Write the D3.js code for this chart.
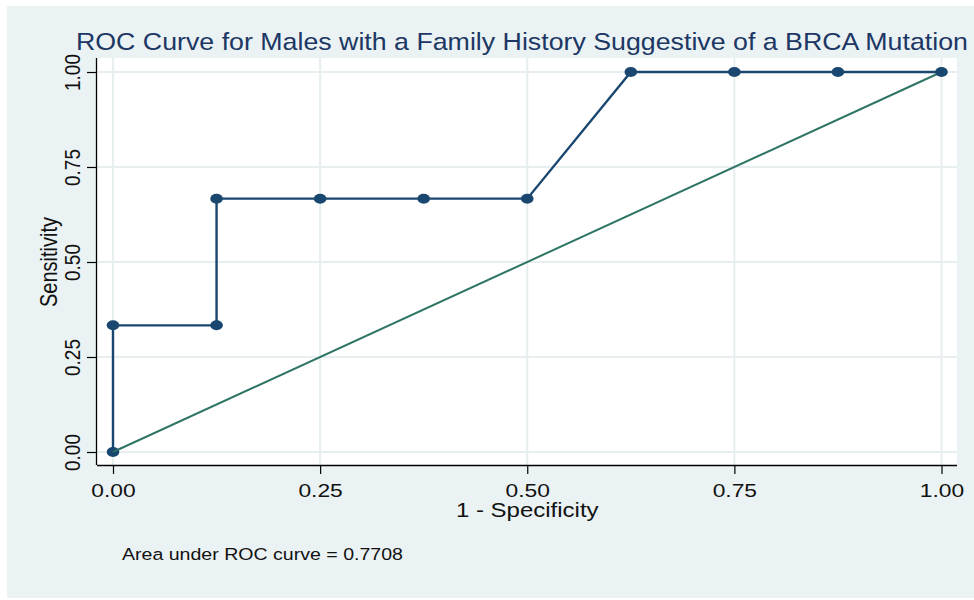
<!DOCTYPE html>
<html>
<head>
<meta charset="utf-8">
<script src="https://cdn.jsdelivr.net/npm/d3@7"></script>
<style>
  html, body { margin: 0; padding: 0; background: #ffffff; }
  svg { display: block; }
  text { font-family: "Liberation Sans", Arial, Helvetica, sans-serif; }
</style>
</head>
<body>
<svg id="chart" width="974" height="600"></svg>
<script>
// ROC points: 1 - specificity and sensitivity at each cutoff
const fpr = [0, 0, 0.125, 0.125, 0.25, 0.375, 0.5, 0.625, 0.75, 0.875, 1];
const tpr = [0, 1/3, 1/3, 2/3, 2/3, 2/3, 2/3, 1, 1, 1, 1];
const tickValues = [0, 0.25, 0.5, 0.75, 1];
const tickLabels = ["0.00", "0.25", "0.50", "0.75", "1.00"];
const titleText = "ROC Curve for Males with a Family History Suggestive of a BRCA Mutation";
const xTitle = "1 - Specificity";
const yTitle = "Sensitivity";
const aucText = "Area under ROC curve = 0.7708";

const W = 974, H = 600;
const bg = "#eaf2f3", grid = "#e6eef0", navy = "#1a476f", teal = "#2f7565";
const sx = 1.2; // horizontal glyph stretch

const svg = d3.select("#chart");

// outer graph region
svg.append("rect").attr("x", 7).attr("y", 6).attr("width", W - 7).attr("height", 592).attr("fill", bg);

// plot region
const plot = { left: 97, right: 957, top: 58, bottom: 465 };
svg.append("rect")
  .attr("x", plot.left).attr("y", plot.top)
  .attr("width", plot.right - plot.left).attr("height", plot.bottom - plot.top)
  .attr("fill", "#ffffff");

const x = d3.scaleLinear().domain([0, 1]).range([113, 941.5]);
const y = d3.scaleLinear().domain([0, 1]).range([452, 72]);

// gridlines
svg.append("g").selectAll("line").data(tickValues).join("line")
  .attr("x1", d => x(d)).attr("x2", d => x(d))
  .attr("y1", plot.top).attr("y2", plot.bottom)
  .attr("stroke", grid).attr("stroke-width", 2);
svg.append("g").selectAll("line").data(tickValues).join("line")
  .attr("y1", d => y(d)).attr("y2", d => y(d))
  .attr("x1", plot.left).attr("x2", plot.right)
  .attr("stroke", grid).attr("stroke-width", 2);

// axes
const fmt = d => tickLabels[tickValues.indexOf(d)];
const xAxis = svg.append("g")
  .attr("transform", `translate(0,${plot.bottom})`)
  .call(d3.axisBottom(x).tickValues(tickValues).tickFormat(fmt).tickSize(9).tickPadding(6));
xAxis.select(".domain").attr("d", `M${plot.left},0.5H${plot.right}`).attr("stroke", "#000").attr("stroke-width", 1.3);
xAxis.selectAll(".tick line").attr("stroke", "#000").attr("stroke-width", 1.2);
xAxis.selectAll(".tick text")
  .attr("font-size", 19).attr("fill", "#111")
  .attr("y", null).attr("dy", null)
  .attr("transform", `translate(0,32) scale(${sx},1)`);

const yAxis = svg.append("g")
  .attr("transform", `translate(${plot.left},0)`)
  .call(d3.axisLeft(y).tickValues(tickValues).tickFormat(fmt).tickSize(10).tickPadding(6));
yAxis.select(".domain").attr("d", `M-0.5,${plot.top}V${plot.bottom}`).attr("stroke", "#000").attr("stroke-width", 1.3);
yAxis.selectAll(".tick line").attr("stroke", "#000").attr("stroke-width", 1.2);
yAxis.selectAll(".tick text")
  .attr("font-size", 19).attr("fill", "#111")
  .attr("x", null).attr("dy", null)
  .attr("text-anchor", "middle")
  .attr("transform", `translate(-17,0) scale(${sx},1) rotate(-90)`);

// reference diagonal
svg.append("line")
  .attr("x1", x(0)).attr("y1", y(0)).attr("x2", x(1)).attr("y2", y(1))
  .attr("stroke", teal).attr("stroke-width", 2);

// ROC curve
const pts = fpr.map((v, i) => [v, tpr[i]]);
svg.append("path")
  .datum(pts)
  .attr("d", d3.line().x(d => x(d[0])).y(d => y(d[1])))
  .attr("fill", "none").attr("stroke", navy).attr("stroke-width", 2.4);

svg.append("g").selectAll("ellipse").data(pts).join("ellipse")
  .attr("cx", d => x(d[0])).attr("cy", d => y(d[1]))
  .attr("rx", 6.3).attr("ry", 5)
  .attr("fill", navy);

// the diagonal shows through the end markers
svg.append("line")
  .attr("x1", x(0)).attr("y1", y(0)).attr("x2", x(0.012)).attr("y2", y(0.012))
  .attr("stroke", teal).attr("stroke-width", 1.5);

// titles
svg.append("text")
  .attr("transform", `translate(76,50) scale(1.115,1)`)
  .attr("font-size", 24).attr("fill", "#1c3764")
  .text(titleText);

svg.append("text")
  .attr("transform", `translate(${(x(0) + x(1)) / 2},517) scale(${sx},1)`)
  .attr("text-anchor", "middle").attr("font-size", 20).attr("fill", "#111")
  .text(xTitle);

svg.append("text")
  .attr("transform", `translate(57,${(y(0) + y(1)) / 2}) scale(${sx},1) rotate(-90)`)
  .attr("text-anchor", "middle").attr("font-size", 20).attr("fill", "#111")
  .text(yTitle);

svg.append("text")
  .attr("transform", `translate(122,560) scale(${sx},1)`)
  .attr("font-size", 16.3).attr("fill", "#111")
  .text(aucText);
</script>
</body>
</html>
